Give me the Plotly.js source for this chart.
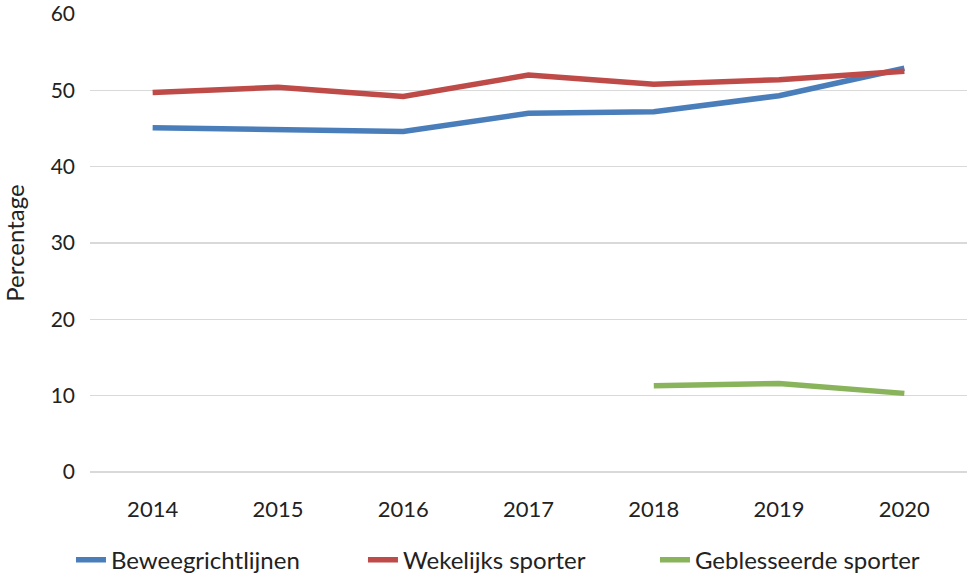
<!DOCTYPE html>
<html>
<head>
<meta charset="utf-8">
<script src="https://cdn.plot.ly/plotly-3.0.1.min.js"></script>
<style>html,body{margin:0;padding:0;background:#fff;}#chart{width:969px;height:584px;}</style>
</head>
<body>
<div id="chart"></div>
<script>
const years = ['2014','2015','2016','2017','2018','2019','2020'];
const beweegrichtlijnen = [45.1, 44.9, 44.6, 47.0, 47.2, 49.3, 52.9];
const wekelijksSporter = [49.7, 50.4, 49.2, 52.0, 50.8, 51.4, 52.5];
const geblesseerdeSporter = [null, null, null, null, 11.3, 11.6, 10.3];
const seriesNames = ['Beweegrichtlijnen', 'Wekelijks sporter', 'Geblesseerde sporter'];
const yTicks = [0, 10, 20, 30, 40, 50, 60];

const font = "Lato, 'Open Sans', sans-serif";
const mk = (y, name, color) => ({
  x: years, y: y, name: name, type: 'scatter', mode: 'lines',
  line: {color: color, width: 5.5},
  connectgaps: false, hoverinfo: 'none'
});
const data = [
  mk(beweegrichtlijnen, seriesNames[0], '#4A7EBB'),
  mk(wekelijksSporter, seriesNames[1], '#BE4B48'),
  mk(geblesseerdeSporter, seriesNames[2], '#8AB45C')
];
const layout = {
  width: 969, height: 584,
  margin: {l: 90, r: 2, t: 14, b: 111},
  paper_bgcolor: '#fff', plot_bgcolor: '#fff',
  font: {family: font, size: 22, color: '#222'},
  xaxis: {type: 'category', range: [-0.5, 6.5], showgrid: false, zeroline: false, showline: false,
          ticks: '', tickfont: {size: 22}, ticklabelstandoff: 22},
  yaxis: {range: [0, 60], tickvals: yTicks, showgrid: true, gridcolor: '#D9D9D9', gridwidth: 1.5,
          zeroline: true, zerolinecolor: '#D9D9D9', zerolinewidth: 1.5, showline: false, ticks: '',
          tickfont: {size: 21}, ticklabelstandoff: 14,
          title: {text: 'Percentage', font: {size: 24}, standoff: 20}},
  showlegend: true,
  legend: {orientation: 'h', x: -0.0217, xanchor: 'left', y: -0.239, yanchor: 'bottom',
           font: {size: 24}, itemwidth: 30, traceorder: 'normal',
           entrywidth: 247, entrywidthmode: 'pixels', bgcolor: 'rgba(0,0,0,0)'}
};
Plotly.newPlot('chart', data, layout, {displayModeBar: false, staticPlot: true});
</script>
</body>
</html>
